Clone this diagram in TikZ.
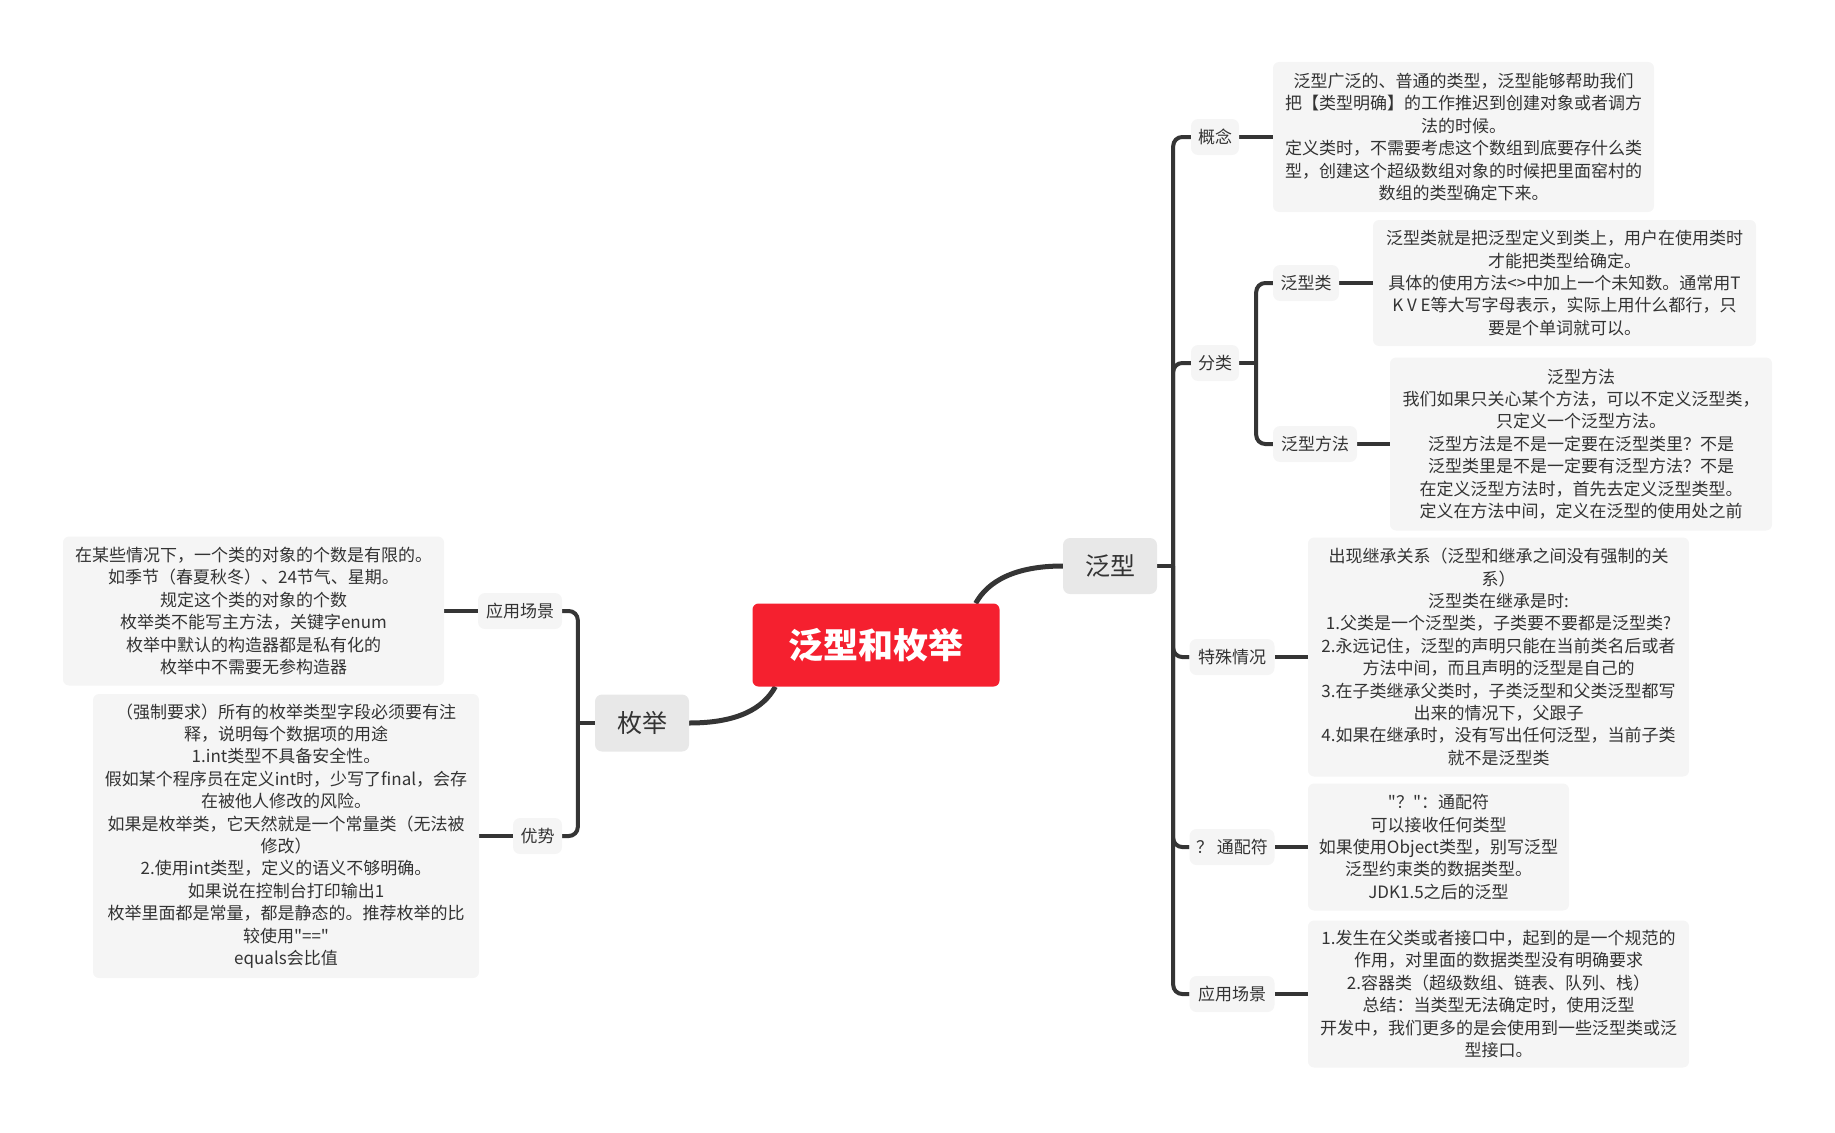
\documentclass[tikz,border=0pt]{standalone}
\usepackage{fontspec}
\newfontfamily\cjk{Noto Sans CJK SC}
\usetikzlibrary{backgrounds}
\definecolor{rootred}{HTML}{F5202F}
\definecolor{txt}{HTML}{333333}
\definecolor{lnc}{HTML}{353535}
\definecolor{mainfill}{HTML}{E8E8E8}
\definecolor{subfill}{HTML}{F5F5F5}
\tikzset{
 rootbox/.style={fill=rootred, text=white, rounded corners=6pt, minimum width=247pt, minimum height=83pt, inner sep=0pt, font=\cjk\fontsize{35}{40}\selectfont\bfseries},
 mainbox/.style={fill=mainfill, text=txt, rounded corners=7pt, inner sep=0pt, font=\cjk\fontsize{25}{28}\selectfont},
 labbox/.style={fill=subfill, text=txt, rounded corners=7pt, inner sep=0pt, minimum height=36pt, font=\cjk\fontsize{17}{22.4}\selectfont},
 detbox/.style={fill=subfill, text=txt, rounded corners=6pt, inner sep=0pt, align=center, font=\cjk\fontsize{17}{22.4}\selectfont},
 conn/.style={draw=lnc, line width=4pt},
 rootconn/.style={draw=lnc, line width=5pt},
 branch/.style={conn, rounded corners=9pt},
}
\begin{document}
\begin{tikzpicture}[x=1pt,y=-1pt]
\useasboundingbox (0,0) rectangle (1835,1132);
% root and main topics
\node[rootbox] (rt) at (876,645) {泛型和枚举};
\node[mainbox, minimum width=94pt, minimum height=56pt] (fx) at (1110,566) {泛型};
\node[mainbox, minimum width=94pt, minimum height=57pt] (my) at (642,723) {枚举};
% right labels
\node[labbox, minimum width=48pt] (gn) at (1215,137) {概念};
\node[labbox, minimum width=48pt] (fl) at (1215,363) {分类};
\node[labbox, minimum width=66pt] (fxl) at (1306,283) {泛型类};
\node[labbox, minimum width=84pt] (fxff) at (1315,444) {泛型方法};
\node[labbox, minimum width=85pt] (tsqk) at (1232,657) {特殊情况};
\node[labbox, minimum width=85pt] (tpf) at (1232,847) {？ 通配符};
\node[labbox, minimum width=85pt] (yycj) at (1232,994) {应用场景};
% right details
\node[detbox, minimum width=381pt, minimum height=150pt] (gnd) at (1463.5,137) {泛型广泛的、普通的类型，泛型能够帮助我们\\把【类型明确】的工作推迟到创建对象或者调方\\法的时候。\\定义类时，不需要考虑这个数组到底要存什么类\\型，创建这个超级数组对象的时候把里面窑村的\\数组的类型确定下来。};
\node[detbox, minimum width=383pt, minimum height=126pt] (fxld) at (1564.5,283) {泛型类就是把泛型定义到类上，用户在使用类时\\才能把类型给确定。\\具体的使用方法<>中加上一个未知数。通常用T\\K V E等大写字母表示，实际上用什么都行，只\\要是个单词就可以。};
\node[detbox, minimum width=382pt, minimum height=173pt] (fxffd) at (1581,444) {泛型方法\\我们如果只关心某个方法，可以不定义泛型类，\\只定义一个泛型方法。\\泛型方法是不是一定要在泛型类里？不是\\泛型类里是不是一定要有泛型方法？不是\\在定义泛型方法时，首先去定义泛型类型。\\定义在方法中间，定义在泛型的使用处之前};
\node[detbox, minimum width=381pt, minimum height=239pt] (tsqkd) at (1498.5,657) {出现继承关系（泛型和继承之间没有强制的关\\系）\\泛型类在继承是时:\\1.父类是一个泛型类，子类要不要都是泛型类?\\2.永远记住，泛型的声明只能在当前类名后或者\\方法中间，而且声明的泛型是自己的\\3.在子类继承父类时，子类泛型和父类泛型都写\\出来的情况下，父跟子\\4.如果在继承时，没有写出任何泛型，当前子类\\就不是泛型类};
\node[detbox, minimum width=261pt, minimum height=127pt] (tpfd) at (1438.5,847) {"？"：通配符\\可以接收任何类型\\如果使用Object类型，别写泛型\\泛型约束类的数据类型。\\JDK1.5之后的泛型};
\node[detbox, minimum width=381pt, minimum height=147pt] (yycjd) at (1498.5,994) {1.发生在父类或者接口中，起到的是一个规范的\\作用，对里面的数据类型没有明确要求\\2.容器类（超级数组、链表、队列、栈）\\总结：当类型无法确定时，使用泛型\\开发中，我们更多的是会使用到一些泛型类或泛\\型接口。};
% left labels and details
\node[labbox, minimum width=84pt] (ljcj) at (520,611) {应用场景};
\node[labbox, minimum width=49pt] (ys) at (537.5,836) {优势};
\node[detbox, minimum width=381pt, minimum height=149pt] (ljcjd) at (253.5,611) {在某些情况下，一个类的对象的个数是有限的。\\如季节（春夏秋冬）、24节气、星期。\\规定这个类的对象的个数\\枚举类不能写主方法，关键字enum\\枚举中默认的构造器都是私有化的\\枚举中不需要无参构造器};
\node[detbox, minimum width=386pt, minimum height=284pt] (ysd) at (286,836) {（强制要求）所有的枚举类型字段必须要有注\\释，说明每个数据项的用途\\1.int类型不具备安全性。\\假如某个程序员在定义int时，少写了final，会存\\在被他人修改的风险。\\如果是枚举类，它天然就是一个常量类（无法被\\修改）\\2.使用int类型，定义的语义不够明确。\\如果说在控制台打印输出1\\枚举里面都是常量，都是静态的。推荐枚举的比\\较使用"=="\\equals会比值};
% connectors
\begin{scope}[on background layer]
\draw[rootconn] ([xshift=-24pt]rt.north east) .. controls +(12,-22) and +(-48,0) .. (fx.west);
\draw[rootconn] ([xshift=23pt]rt.south west) .. controls +(-12,22) and +(48,0) .. (my.east);
\coordinate (fxj) at ([xshift=16pt]fx.east);
\draw[conn] (fx.east) -- (fxj);
\draw[branch] (fxj) |- (gn.west);
\draw[branch] (fxj) |- (fl.west);
\draw[branch] (fxj) |- (tsqk.west);
\draw[branch] (fxj) |- (tpf.west);
\draw[branch] (fxj) |- (yycj.west);
\coordinate (flj) at ([xshift=17pt]fl.east);
\draw[conn] (fl.east) -- (flj);
\draw[branch] (flj) |- (fxl.west);
\draw[branch] (flj) |- (fxff.west);
\draw[conn] (gn.east) -- (gn.east -| gnd.west);
\draw[conn] (fxl.east) -- (fxl.east -| fxld.west);
\draw[conn] (fxff.east) -- (fxff.east -| fxffd.west);
\draw[conn] (tsqk.east) -- (tsqk.east -| tsqkd.west);
\draw[conn] (tpf.east) -- (tpf.east -| tpfd.west);
\draw[conn] (yycj.east) -- (yycj.east -| yycjd.west);
\coordinate (myj) at ([xshift=-17pt]my.west);
\draw[conn] (my.west) -- (myj);
\draw[branch] (myj) |- (ljcj.east);
\draw[branch] (myj) |- (ys.east);
\draw[conn] (ljcj.west) -- (ljcj.west -| ljcjd.east);
\draw[conn] (ys.west) -- (ys.west -| ysd.east);
\end{scope}
\end{tikzpicture}
\end{document}
